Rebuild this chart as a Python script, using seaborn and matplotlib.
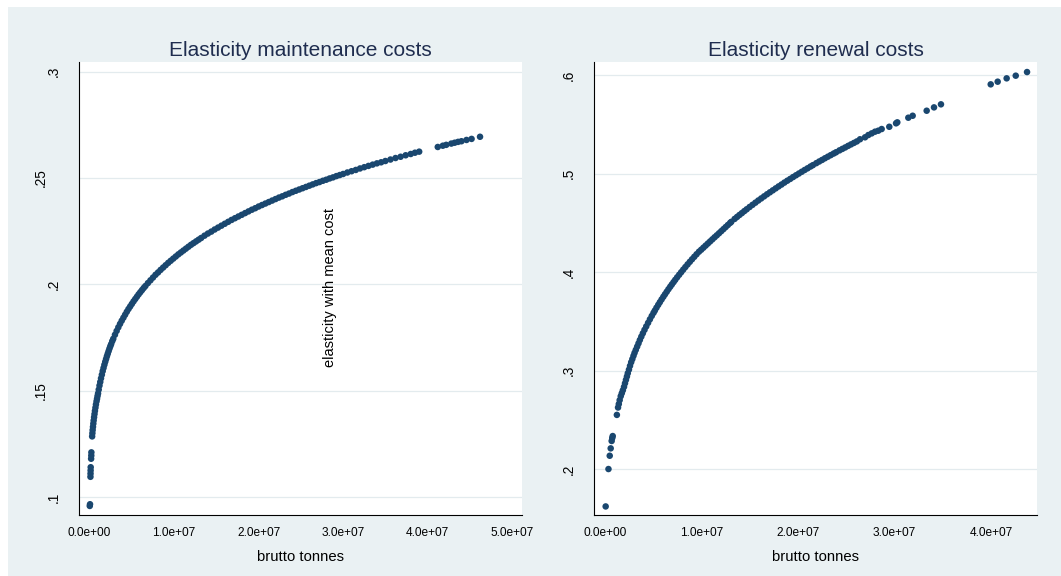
import numpy as np
import matplotlib
matplotlib.use("Agg")
import matplotlib.pyplot as plt
import matplotlib.transforms as mtransforms
from matplotlib.patches import Rectangle
import seaborn as sns

# ---------------------------------------------------------------------------
# Elasticity of maintenance costs against traffic (brutto tonnes, in millions)
# ---------------------------------------------------------------------------
maint_tonnes_mt = [
    0.02, 0.05, 0.10, 0.11, 0.12, 0.13, 0.18, 0.20, 0.21,
    0.30, 0.33, 0.36, 0.40, 0.44, 0.48, 0.53, 0.58, 0.63, 0.69, 0.75, 0.82, 0.88, 0.94, 1.00,
    1.08, 1.17, 1.26, 1.35, 1.45, 1.55, 1.65, 1.75, 1.85, 1.95, 2.05, 2.15, 2.25, 2.35, 2.45,
    2.55, 2.68, 2.80, 3.00, 3.20, 3.40, 3.60, 3.80, 4.00, 4.20, 4.40, 4.60, 4.80, 5.00, 5.20,
    5.40, 5.60, 5.80, 6.00, 6.20, 6.40, 6.60, 6.90, 7.20, 7.50, 7.80, 8.10, 8.40, 8.70, 9.00,
    9.30, 9.60, 9.90, 10.2, 10.5, 10.8, 11.1, 11.4, 11.7, 12.0, 12.3, 12.6, 12.9, 13.2,
    13.6, 14.0, 14.4, 14.8, 15.2, 15.6, 16.0, 16.4, 16.8, 17.2, 17.6, 18.0, 18.4, 18.8, 19.2,
    19.6, 20.0, 20.4, 20.8, 21.2, 21.6, 22.0, 22.4, 22.8, 23.2, 23.6, 24.0, 24.4, 24.8, 25.2,
    25.6, 26.0, 26.4, 26.8, 27.2, 27.6, 28.0, 28.4, 28.8, 29.2, 29.6, 30.0,
    30.5, 31.0, 31.5, 32.0, 32.5, 33.0, 33.5, 34.0, 34.5, 35.0, 35.6, 36.2, 36.8, 37.4, 38.0,
    38.5, 39.0,
    41.2, 41.8, 42.2, 42.8, 43.2, 43.6, 44.0, 44.6, 45.2, 46.2,
]
maint_elasticity = [
    0.0958, 0.0966, 0.1095, 0.1110, 0.1125, 0.1140, 0.1180, 0.1195, 0.1210,
    0.1285, 0.1300, 0.1315, 0.1330, 0.1345, 0.1360, 0.1375, 0.1390, 0.1405, 0.1420, 0.1435,
    0.1450, 0.1462, 0.1475, 0.1487,
    0.1505, 0.1524, 0.1541, 0.1558, 0.1575, 0.1592, 0.1607, 0.1622, 0.1636, 0.1649, 0.1662,
    0.1674, 0.1686, 0.1698, 0.1709, 0.1719, 0.1733, 0.1744, 0.1763, 0.1781, 0.1798, 0.1814,
    0.1829, 0.1843, 0.1857, 0.1871, 0.1884, 0.1896, 0.1908, 0.1920, 0.1931, 0.1942, 0.1953,
    0.1963, 0.1973, 0.1983, 0.1992, 0.2006, 0.2019, 0.2032, 0.2045, 0.2056, 0.2068, 0.2079,
    0.2090, 0.2101, 0.2111, 0.2121, 0.2131, 0.2141, 0.2150, 0.2159, 0.2168, 0.2177, 0.2186,
    0.2194, 0.2202, 0.2210, 0.2218,
    0.2229, 0.2239, 0.2248, 0.2258, 0.2267, 0.2276, 0.2285, 0.2294, 0.2303, 0.2311, 0.2319,
    0.2327, 0.2335, 0.2343, 0.2351, 0.2358, 0.2366, 0.2373, 0.2380, 0.2387, 0.2394, 0.2401,
    0.2408, 0.2414, 0.2421, 0.2427, 0.2434, 0.2440, 0.2446, 0.2452, 0.2458, 0.2464, 0.2470,
    0.2476, 0.2481, 0.2487, 0.2492, 0.2498, 0.2503, 0.2509, 0.2514, 0.2519,
    0.2526, 0.2532, 0.2538, 0.2545, 0.2551, 0.2557, 0.2563, 0.2569, 0.2574, 0.2580, 0.2587,
    0.2594, 0.2600, 0.2607, 0.2613, 0.2619, 0.2624,
    0.2646, 0.2652, 0.2656, 0.2662, 0.2666, 0.2670, 0.2673, 0.2679, 0.2684, 0.2694,
]

# ---------------------------------------------------------------------------
# Elasticity of renewal costs against traffic (brutto tonnes, in millions)
# ---------------------------------------------------------------------------
renew_tonnes_mt = [
    0.10, 0.39, 0.52, 0.62, 0.72, 0.78, 0.83,
    1.26, 1.38, 1.46, 1.55, 1.66, 1.77, 1.88,
    2.00, 2.10, 2.20, 2.30, 2.39, 2.51, 2.62, 2.74, 2.86, 2.98, 3.09, 3.22, 3.36, 3.50, 3.64,
    3.79, 3.95, 4.12, 4.30, 4.49, 4.68, 4.87, 5.05, 5.19, 5.36, 5.54, 5.71, 5.89, 6.07, 6.24,
    6.42, 6.60, 6.78, 6.95, 7.13, 7.30, 7.50, 7.71, 7.92, 8.13, 8.35, 8.58, 8.81, 9.04, 9.27,
    9.51, 9.76, 9.99, 10.22, 10.45, 10.68, 10.91, 11.14, 11.37, 11.60, 11.83, 12.06, 12.29,
    12.52, 12.75, 12.98, 13.10,
    13.45, 13.70, 13.95, 14.20, 14.45, 14.70, 15.00, 15.30, 15.60, 15.90, 16.20, 16.50, 16.80,
    17.10, 17.40, 17.70, 18.00, 18.30, 18.60, 18.90, 19.20, 19.50, 19.80, 20.10, 20.40, 20.70,
    21.00, 21.30, 21.55, 21.90, 22.20, 22.50, 22.80, 23.10, 23.40, 23.70, 23.95, 24.30, 24.60,
    24.90, 25.20, 25.50, 25.80, 26.10,
    26.43, 26.95, 27.29, 27.64, 27.98, 28.32, 28.67, 29.46, 30.16, 30.29, 31.43, 31.88, 33.33,
    34.09, 34.81,
    39.96, 40.68, 41.61, 42.55, 43.72,
]
renew_elasticity = [
    0.1620, 0.2000, 0.2135, 0.2210, 0.2285, 0.2315, 0.2335,
    0.2550, 0.2625, 0.2660, 0.2700, 0.2740, 0.2770, 0.2800,
    0.2835, 0.2871, 0.2906, 0.2940, 0.2973, 0.3010, 0.3048, 0.3085, 0.3117, 0.3150, 0.3180,
    0.3211, 0.3244, 0.3277, 0.3311, 0.3345, 0.3379, 0.3414, 0.3449, 0.3485, 0.3521, 0.3555,
    0.3586, 0.3610, 0.3639, 0.3668, 0.3695, 0.3723, 0.3750, 0.3775, 0.3801, 0.3827, 0.3852,
    0.3875, 0.3899, 0.3922, 0.3948, 0.3974, 0.4000, 0.4026, 0.4052, 0.4079, 0.4105, 0.4131,
    0.4156, 0.4182, 0.4208, 0.4228, 0.4249, 0.4270, 0.4291, 0.4312, 0.4333, 0.4354, 0.4374,
    0.4395, 0.4416, 0.4437, 0.4458, 0.4479, 0.4500, 0.4511,
    0.4541, 0.4561, 0.4581, 0.4600, 0.4620, 0.4639, 0.4662, 0.4684, 0.4706, 0.4728, 0.4749,
    0.4770, 0.4791, 0.4811, 0.4831, 0.4851, 0.4871, 0.4890, 0.4910, 0.4929, 0.4947, 0.4966,
    0.4984, 0.5002, 0.5020, 0.5038, 0.5055, 0.5073, 0.5087, 0.5107, 0.5124, 0.5140, 0.5157,
    0.5173, 0.5189, 0.5205, 0.5218, 0.5237, 0.5252, 0.5267, 0.5283, 0.5298, 0.5313, 0.5328,
    0.5350, 0.5370, 0.5393, 0.5410, 0.5427, 0.5437, 0.5454, 0.5477, 0.5512, 0.5522, 0.5569,
    0.5589, 0.5640, 0.5674, 0.5705,
    0.5908, 0.5935, 0.5969, 0.5996, 0.6033,
]

maint_title = "Elasticity maintenance costs"
renew_title = "Elasticity renewal costs"
x_title = "brutto tonnes"
note_text = "elasticity with mean cost"

maint_xticks = [0, 1e7, 2e7, 3e7, 4e7, 5e7]
maint_xticklabels = ["0.0e+00", "1.0e+07", "2.0e+07", "3.0e+07", "4.0e+07", "5.0e+07"]
maint_yticks = [0.10, 0.15, 0.20, 0.25, 0.30]
maint_yticklabels = [".1", ".15", ".2", ".25", ".3"]

renew_xticks = [0, 1e7, 2e7, 3e7, 4e7]
renew_xticklabels = ["0.0e+00", "1.0e+07", "2.0e+07", "3.0e+07", "4.0e+07"]
renew_yticks = [0.2, 0.3, 0.4, 0.5, 0.6]
renew_yticklabels = [".2", ".3", ".4", ".5", ".6"]

# ---------------------------------------------------------------------------
# Styling
# ---------------------------------------------------------------------------
BG = "#eaf1f3"
GRID = "#e3ebee"
MARKER = "#1a476f"
TITLE_COLOR = "#1f2d4f"

sns.set_style("white")
plt.rcParams["font.family"] = ["Liberation Sans", "DejaVu Sans"]

W, H = 1061, 576
DPI = 100
fig = plt.figure(figsize=(W / DPI, H / DPI), dpi=DPI, facecolor="white")
fig.patches.append(
    Rectangle((8 / W, 0), 1 - 8 / W, 1 - 7 / H, transform=fig.transFigure,
              facecolor=BG, edgecolor="none", zorder=-10)
)

ax_top = 62.0
ax_bottom = 515.3
ax1 = fig.add_axes([79.3 / W, (H - ax_bottom) / H, 442.3 / W, (ax_bottom - ax_top) / H])
ax2 = fig.add_axes([594.3 / W, (H - ax_bottom) / H, 442.4 / W, (ax_bottom - ax_top) / H])


def draw_panel(ax, x_mt, y, title, xticks, xticklabels, yticks, yticklabels, xlim, ylim):
    ax.set_facecolor("white")
    x = np.asarray(x_mt) * 1e6
    sns.scatterplot(x=x, y=y, ax=ax, color=MARKER, s=22, linewidth=0,
                    edgecolor="none", zorder=3)
    ax.set_xlim(*xlim)
    ax.set_ylim(*ylim)
    ax.set_xticks(xticks)
    ax.set_xticklabels(xticklabels)
    ax.set_yticks(yticks)
    ax.set_yticklabels(yticklabels)
    ax.grid(axis="y", color=GRID, linewidth=0.9)
    ax.grid(axis="x", visible=False)
    ax.set_axisbelow(True)
    for side in ("top", "right"):
        ax.spines[side].set_visible(False)
    for side in ("left", "bottom"):
        ax.spines[side].set_color("black")
        ax.spines[side].set_linewidth(0.8)
    ax.tick_params(direction="out", length=3.6, width=0.7, color="black",
                   labelcolor="black")
    ax.tick_params(axis="x", pad=5, labelsize=8.6)
    ax.tick_params(axis="y", pad=9.5, labelrotation=90, labelsize=9.8)
    for lab in ax.get_yticklabels():
        lab.set_verticalalignment("center")
    ax.set_title(title, fontsize=15, color=TITLE_COLOR, pad=4.5)
    ax.set_xlabel(x_title, fontsize=10.7, color="black", labelpad=7.5)
    ax.set_ylabel("")


draw_panel(ax1, maint_tonnes_mt, maint_elasticity, maint_title,
           maint_xticks, maint_xticklabels, maint_yticks, maint_yticklabels,
           (-0.1219e7, 5.112e7), (0.0914, 0.30456))
draw_panel(ax2, renew_tonnes_mt, renew_elasticity, renew_title,
           renew_xticks, renew_xticklabels, renew_yticks, renew_yticklabels,
           (-0.1077e7, 4.472e7), (0.1530, 0.6135))

# Three-character labels sit further out from the axis
shift = mtransforms.ScaledTranslation(-13 / DPI, 0, fig.dpi_scale_trans)
for lab in ax1.get_yticklabels():
    if len(lab.get_text()) == 3:
        lab.set_transform(lab.get_transform() + shift)

ax1.text(2.85e7, 0.1983, note_text, rotation=90, ha="center", va="center",
         fontsize=10.5, color="black")

fig.savefig("out.png", dpi=DPI, facecolor=fig.get_facecolor())
